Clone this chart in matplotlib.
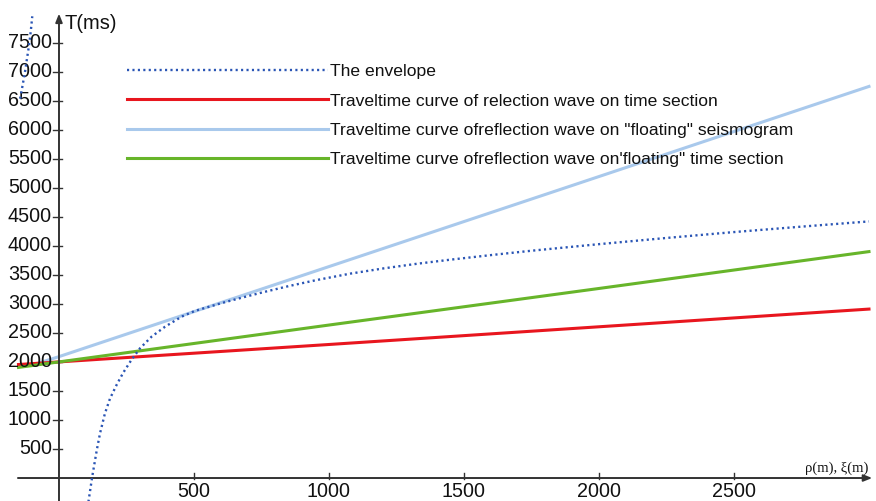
import matplotlib
matplotlib.use("Agg")
import matplotlib.pyplot as plt

plt.rcParams["font.family"] = ["Liberation Sans", "DejaVu Sans"]

# Offsets (m) and traveltimes (ms) of each curve
rho_red = [-150, 0, 1000, 2000, 3000]
t_red = [1955, 2000, 2300, 2605, 2910]

rho_blue = [-100, 0, 1000, 2000, 3000]
t_blue = [1945, 2091, 3642, 5193, 6745]

rho_green = [-150, 0, 1000, 2000, 3000]
t_green = [1905, 2000, 2635, 3265, 3900]

# Envelope: main branch and the short branch at negative offsets
rho_env = [109, 123, 140, 152, 170, 189, 214, 238, 269, 300, 343, 393, 454,
           504, 600, 680, 760, 850, 954, 1078, 1201, 1325, 1448, 1600, 1750,
           2004, 2250, 2496, 2750, 3000]
t_env = [-410, 22, 482, 770, 1110, 1370, 1610, 1815, 2040, 2234, 2435, 2607,
         2779, 2880, 3010, 3110, 3205, 3305, 3410, 3520, 3610, 3690, 3760,
         3840, 3915, 4030, 4135, 4235, 4330, 4420]
rho_env_up = [-144, -135, -126, -118, -110, -104, -99]
t_env_up = [6534, 6760, 6993, 7240, 7483, 7720, 7953]

x_ticks = [500, 1000, 1500, 2000, 2500]
y_ticks = [500, 1000, 1500, 2000, 2500, 3000, 3500, 4000, 4500, 5000, 5500,
           6000, 6500, 7000, 7500]

labels = ["The envelope",
          "Traveltime curve of relection wave on time section",
          "Traveltime curve ofreflection wave on \"floating\" seismogram",
          "Traveltime curve ofreflection wave on'floating\" time section"]

c_env = "#2a55b5"
c_red = "#e8161e"
c_blue = "#a9c9ec"
c_green = "#67b52a"
c_axis = "#333333"

fig = plt.figure(figsize=(8.76, 5.01), dpi=100)
ax = fig.add_axes([0, 0, 1, 1])
ax.set_xlim(-218.5, 3026)
ax.set_ylim(-396, 8234)

env_style = dict(color=c_env, lw=1.7, linestyle=(0, (0.9, 1.4)))
h_env, = ax.plot(rho_env, t_env, **env_style, zorder=4)
ax.plot(rho_env_up, t_env_up, **env_style, zorder=4)
h_red, = ax.plot(rho_red, t_red, color=c_red, lw=2.2, zorder=3)
h_blue, = ax.plot(rho_blue, t_blue, color=c_blue, lw=2.2, zorder=2)
h_green, = ax.plot(rho_green, t_green, color=c_green, lw=2.2, zorder=3)

# Axes drawn as arrows through the origin
for s in ax.spines.values():
    s.set_visible(False)
ax.annotate("", xy=(0, 8000), xytext=(0, -396),
            arrowprops=dict(arrowstyle="-|>,head_length=0.5,head_width=0.2",
                            lw=1.4, color=c_axis, shrinkA=0, shrinkB=0))
ax.annotate("", xy=(3012, 0), xytext=(-152, 0),
            arrowprops=dict(arrowstyle="-|>,head_length=0.5,head_width=0.2",
                            lw=1.4, color=c_axis, shrinkA=0, shrinkB=0))

# Tick marks and labels
ax.set_xticks([])
ax.set_yticks([])
for yt in y_ticks:
    ax.plot([-22, 11], [yt, yt], color=c_axis, lw=1.0)
    ax.text(-26, yt, str(yt), ha="right", va="center", fontsize=14.2,
            color="#111111")
for xt in x_ticks:
    ax.plot([xt, xt], [-20, 90], color=c_axis, lw=1.0)
    ax.text(xt, -392, str(xt), ha="center", va="bottom", fontsize=14.2,
            color="#111111")

ax.text(20, 7990, "T(ms)", ha="left", va="top", fontsize=14.5, color="#111111")
ax.text(2996, 55, "ρ(m), ξ(m)", ha="right", va="bottom", fontsize=10.5,
        family=["Liberation Serif", "DejaVu Serif"], color="#111111")

leg = ax.legend([h_env, h_red, h_blue, h_green], labels,
                loc="upper left", bbox_to_anchor=(127 / 876, 1 - 64 / 501),
                frameon=False, fontsize=12.6, handlelength=11.5,
                handletextpad=0.1, labelspacing=0.8, borderpad=0,
                borderaxespad=0)
for t in leg.get_texts():
    t.set_color("#111111")

fig.savefig("out.png", dpi=100)
